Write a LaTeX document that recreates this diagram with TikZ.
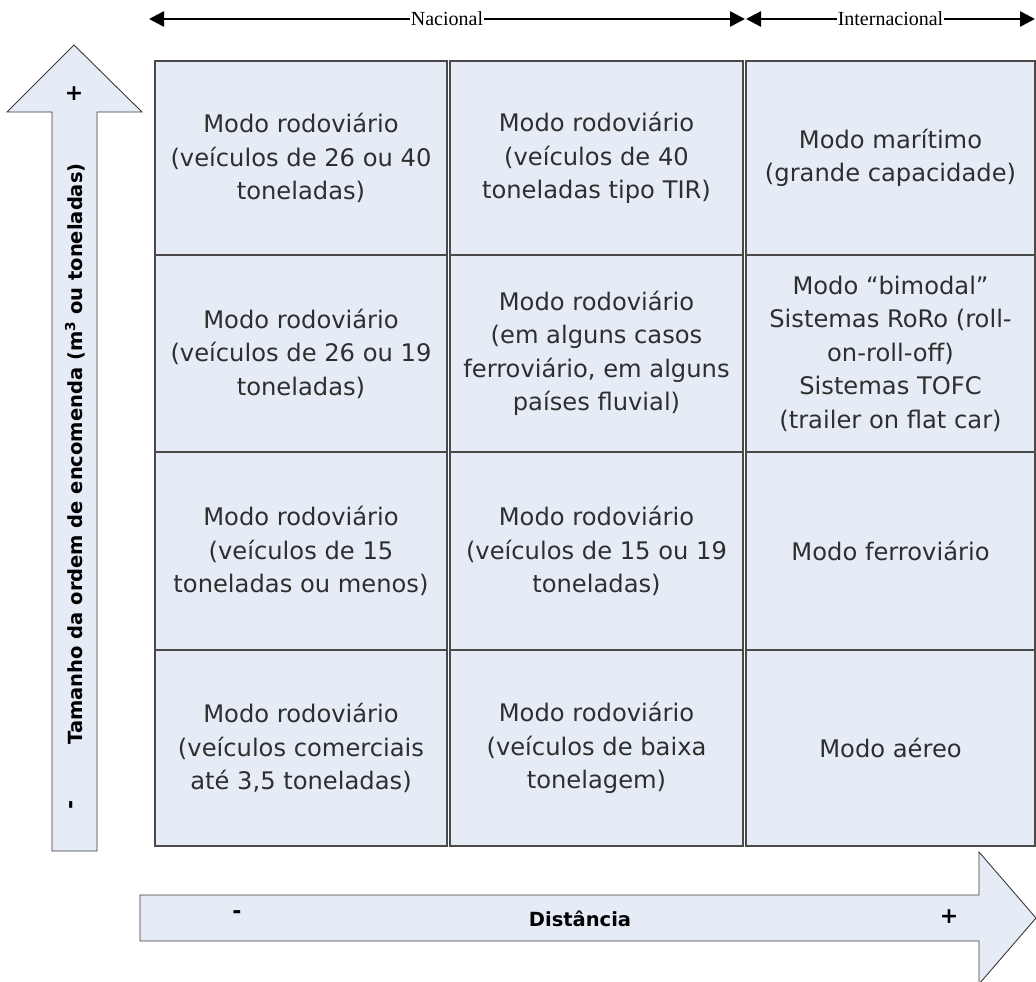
\documentclass[tikz,border=0pt]{standalone}
\usepackage{fontspec}
\setmainfont{DejaVu Sans}
\newfontfamily\labelserif{Liberation Serif}
\usetikzlibrary{arrows.meta}
\definecolor{cellfill}{HTML}{E6ECF6}
\definecolor{cellline}{HTML}{4A4A4A}
\definecolor{axisline}{HTML}{3A3A3A}

\begin{document}
\begin{tikzpicture}[x=1pt,y=-1pt,
  cell/.style={draw=cellline, line width=2pt, fill=cellfill, inner sep=0pt,
    align=center, text=black!82, font=\fontsize{24.2}{33.5}\selectfont},
  axisarrow/.style={draw=axisline, line width=0.9pt, fill=cellfill},
  axislabel/.style={font=\bfseries\fontsize{19.5}{22}\selectfont, inner sep=0pt},
  signlabel/.style={font=\bfseries\fontsize{22}{22}\selectfont, inner sep=0pt},
  span/.style={line width=2.6pt, {Triangle[length=15pt,width=15pt]}-{Triangle[length=15pt,width=15pt]}},
  spanlabel/.style={fill=white, inner xsep=1pt, inner ysep=2pt,
    font=\labelserif\fontsize{20}{20}\selectfont}]

\useasboundingbox (0,0) rectangle (1036,982);

% ---- distance ranges along the top ----
\coordinate (nA) at (149,19);
\coordinate (nB) at (745,19);
\coordinate (iA) at (746,19);
\coordinate (iB) at (1035,19);
\draw[span] (nA) -- node[spanlabel] (nac) {Nacional} (nB);
\draw[span] (iA) -- node[spanlabel] (int) {Internacional} (iB);

% ---- vertical axis: order size ----
\draw[axisarrow] (52,851) -- (52,112) -- (7,112) -- (74,45) -- (142,112)
  -- (97,112) -- (97,851) -- cycle;
\node[axislabel, rotate=90] (ylab) at (75,454)
  {Tamanho da ordem de encomenda (m\textsuperscript{3} ou toneladas)};
\node[signlabel] (yplus) at (74,94) {+};
\node[signlabel, rotate=90] (yminus) at (74,805) {-};

% ---- horizontal axis: distance ----
\draw[axisarrow] (140,895) -- (979,895) -- (979,852) -- (1036,918)
  -- (979,984) -- (979,941) -- (140,941) -- cycle;
\node[signlabel] (xminus) at (237,915) {-};
\node[axislabel] (xlab) at (580,919) {Distância};
\node[signlabel] (xplus) at (949,917) {+};

% ---- transport mode matrix ----
% row 1
\node[cell, minimum width=292pt, minimum height=194pt] (c11) at (301,158)
  {Modo rodoviário\\(veículos de 26 ou 40\\toneladas)};
\node[cell, minimum width=293pt, minimum height=194pt] (c12) at (596.5,158)
  {Modo rodoviário\\(veículos de 40\\toneladas tipo TIR)};
\node[cell, minimum width=289pt, minimum height=194pt] (c13) at (890.5,158)
  {Modo marítimo\\(grande capacidade)};
% row 2
\node[cell, minimum width=292pt, minimum height=197pt] (c21) at (301,353.5)
  {Modo rodoviário\\(veículos de 26 ou 19\\toneladas)};
\node[cell, minimum width=293pt, minimum height=197pt] (c22) at (596.5,353.5)
  {Modo rodoviário\\(em alguns casos\\ferroviário, em alguns\\países fluvial)};
\node[cell, minimum width=289pt, minimum height=197pt] (c23) at (890.5,353.5)
  {Modo “bimodal”\\Sistemas RoRo (roll-\\on-roll-off)\\Sistemas TOFC\\(trailer on flat car)};
% row 3
\node[cell, minimum width=292pt, minimum height=198pt] (c31) at (301,551)
  {Modo rodoviário\\(veículos de 15\\toneladas ou menos)};
\node[cell, minimum width=293pt, minimum height=198pt] (c32) at (596.5,551)
  {Modo rodoviário\\(veículos de 15 ou 19\\toneladas)};
\node[cell, minimum width=289pt, minimum height=198pt] (c33) at (890.5,551)
  {Modo ferroviário};
% row 4
\node[cell, minimum width=292pt, minimum height=196pt] (c41) at (301,748)
  {Modo rodoviário\\(veículos comerciais\\até 3,5 toneladas)};
\node[cell, minimum width=293pt, minimum height=196pt] (c42) at (596.5,748)
  {Modo rodoviário\\(veículos de baixa\\tonelagem)};
\node[cell, minimum width=289pt, minimum height=196pt] (c43) at (890.5,748)
  {Modo aéreo};

\end{tikzpicture}
\end{document}
